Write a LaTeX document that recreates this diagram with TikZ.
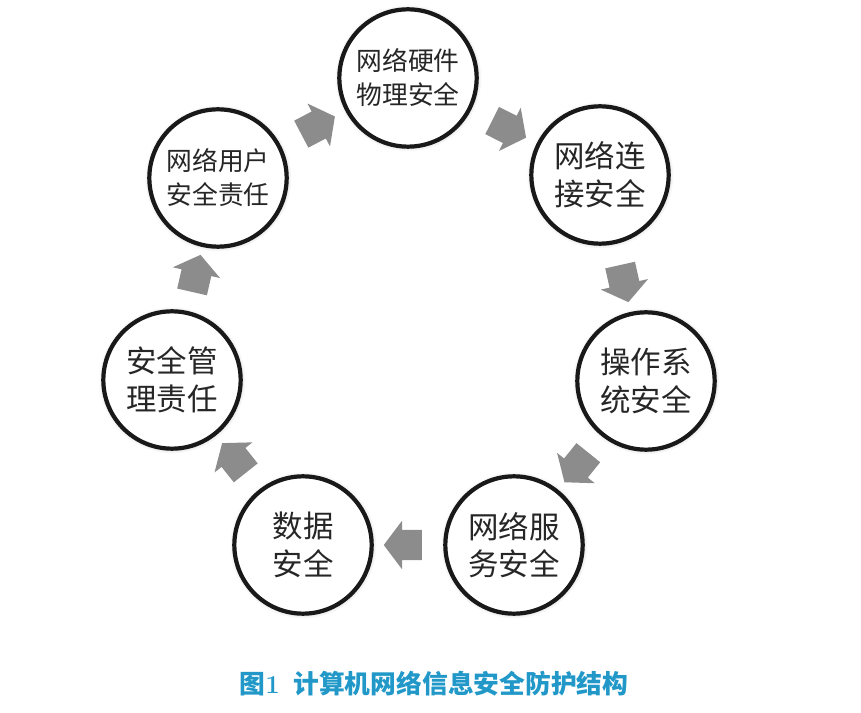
\documentclass[tikz,border=0pt]{standalone}
\usepackage{fontspec}
\newfontfamily\cjk{Noto Sans CJK SC}
\usetikzlibrary{shapes.arrows,shadows}
\definecolor{captionblue}{RGB}{33,152,200}
\begin{document}
\begin{tikzpicture}[x=0.03cm, y=-0.03cm,
  ring/.style={circle, draw=black!90, line width=3.6pt, fill=white, minimum size=4.12cm, inner sep=0pt, align=center, text=black!85,
    circular drop shadow={shadow xshift=0pt, shadow yshift=0pt, shadow scale=1.07, opacity=0.45}},
  four/.style={font=\cjk\fontsize{22}{29}\selectfont},
  three/.style={font=\cjk\fontsize{26}{32}\selectfont},
  flow/.style={single arrow, fill=black!45, draw=none, inner xsep=0pt, inner ysep=0.45cm, minimum height=1.14cm,
    single arrow head extend=0.27cm, single arrow tip angle=106, sloped, allow upside down}]
\useasboundingbox (0,0) rectangle (861,713);
\node[ring, four] (hw) at (408,78) {网络硬件\\物理安全};
\node[ring, three] (link) at (600,175) {网络连\\接安全};
\node[ring, three] (os) at (646,381) {操作系\\统安全};
\node[ring, three] (svc) at (514,545) {网络服\\务安全};
\node[ring, three] (data) at (303,545) {数据\\安全};
\node[ring, three] (mgmt) at (172,380) {安全管\\理责任};
\node[ring, four] (user) at (218,178) {网络用户\\安全责任};
\path (user) -- node[flow] {} (hw);
\path (hw) -- node[flow] {} (link);
\path (link) -- node[flow] {} (os);
\path (os) -- node[flow] {} (svc);
\path (svc) -- node[flow] {} (data);
\path (data) -- node[flow] {} (mgmt);
\path (mgmt) -- node[flow] {} (user);
\node[font=\cjk\bfseries\fontsize{22}{26}\selectfont, text=captionblue] (title) at (434,684) {图{\rmfamily 1}\hspace{0.3em} 计算机网络信息安全防护结构};
\end{tikzpicture}
\end{document}
